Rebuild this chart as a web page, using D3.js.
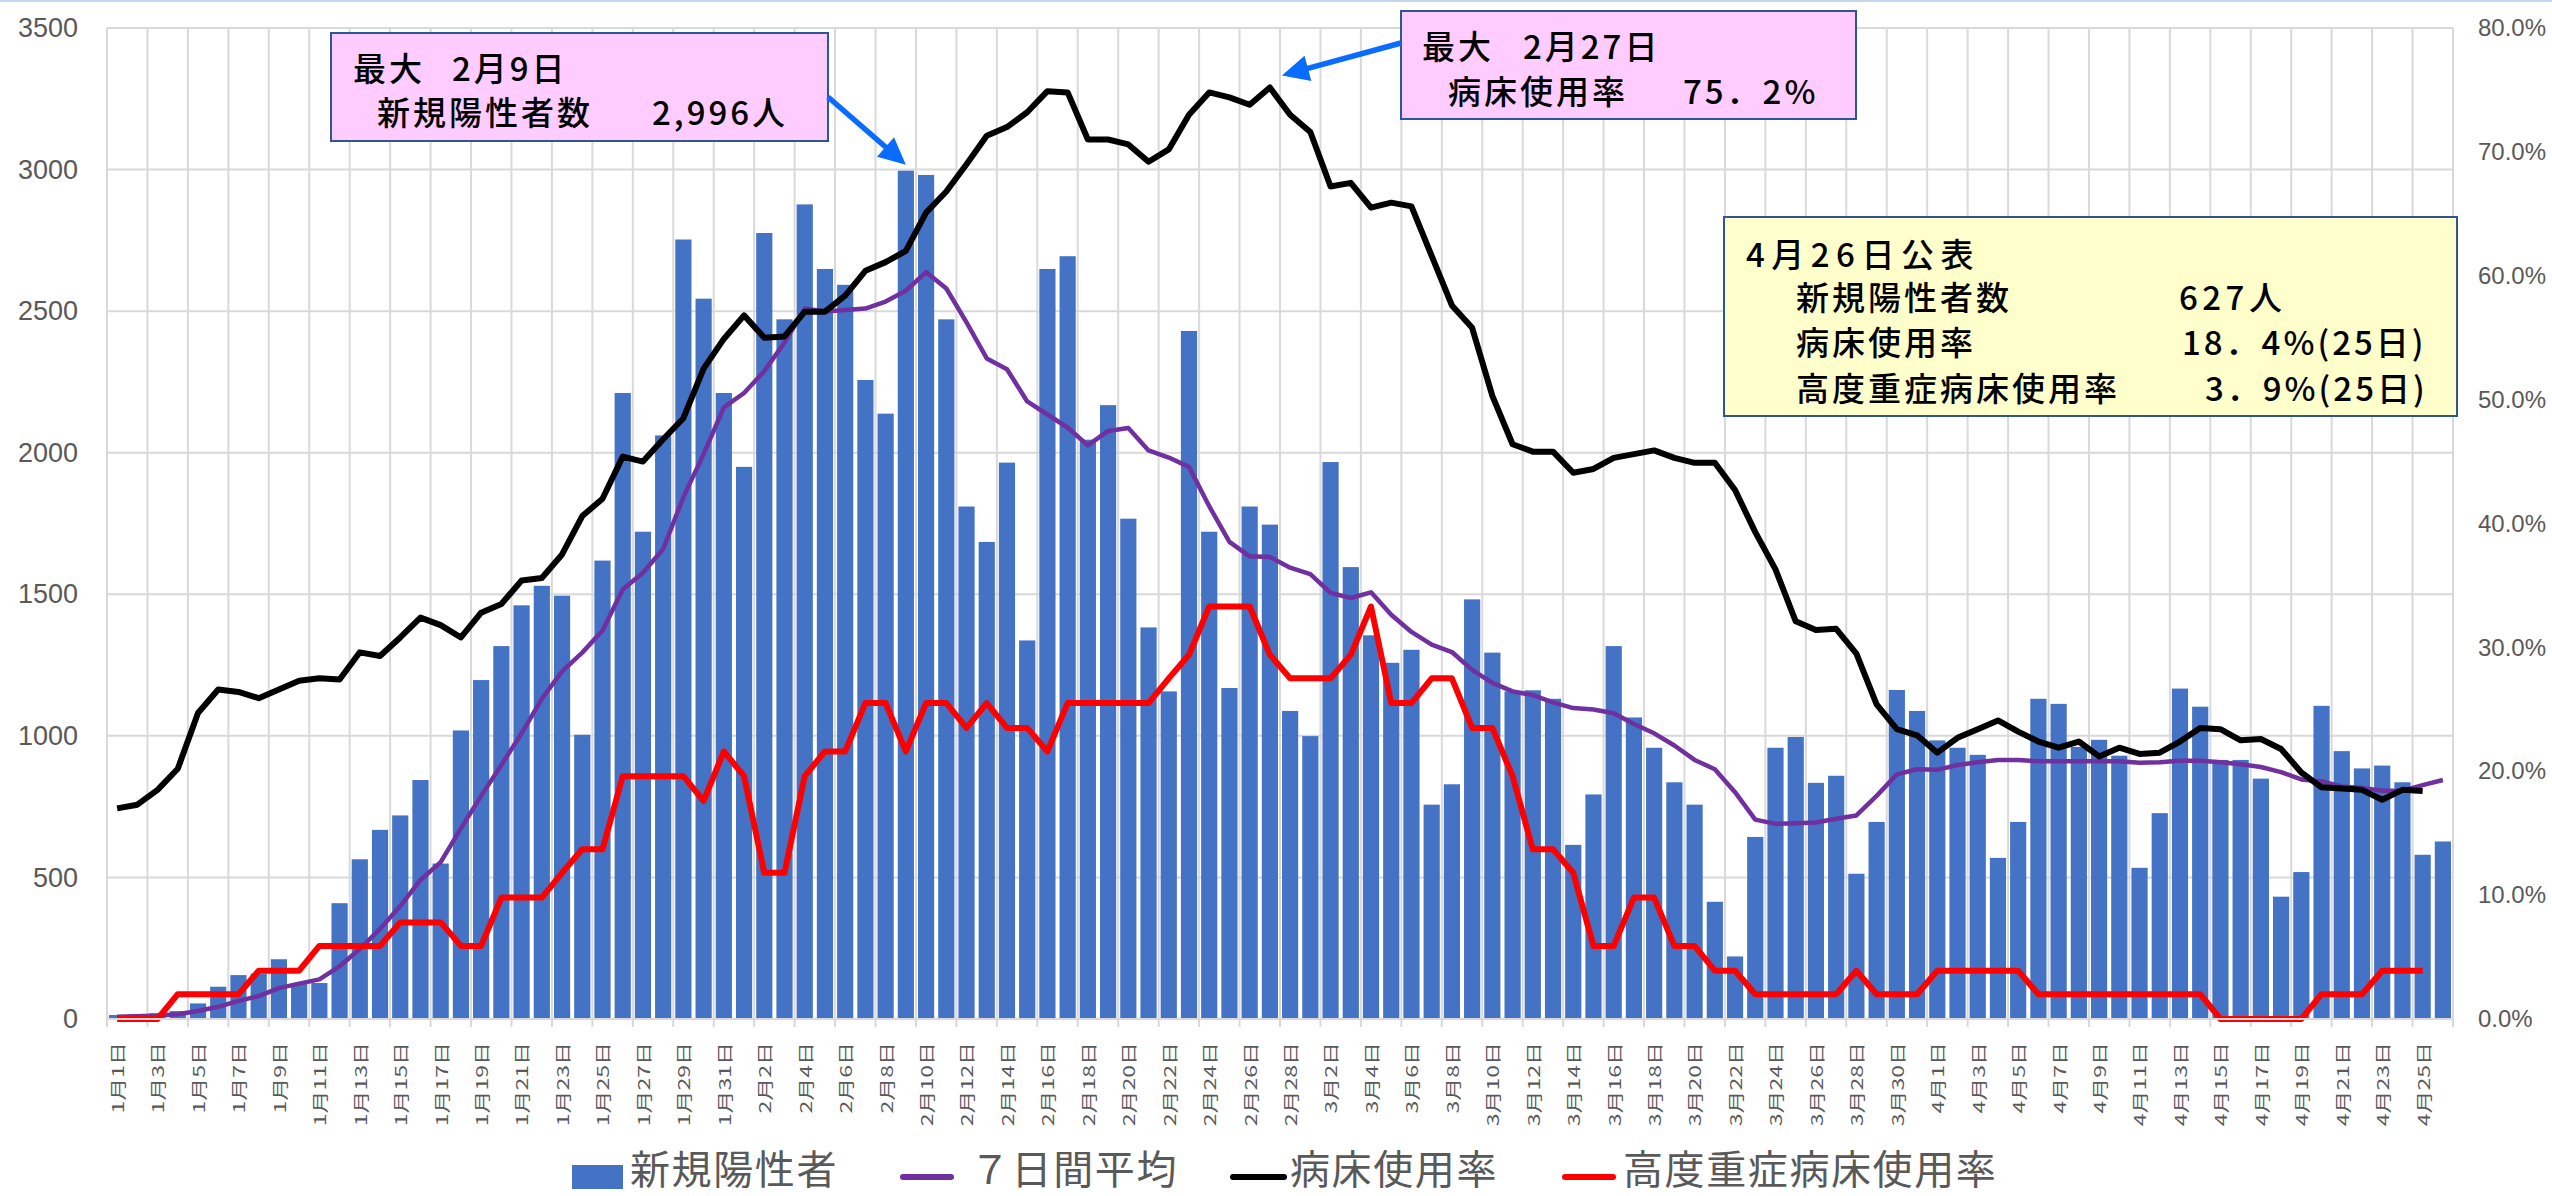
<!DOCTYPE html>
<html><head><meta charset="utf-8">
<script src="https://cdn.jsdelivr.net/npm/d3@7"></script>
<style>body{margin:0;background:#fff}svg{display:block}</style>
</head><body><svg id="c" width="2552" height="1196"></svg>
<script>
const dates = [
"1月1日","1月2日","1月3日","1月4日","1月5日","1月6日","1月7日","1月8日","1月9日","1月10日",
"1月11日","1月12日","1月13日","1月14日","1月15日","1月16日","1月17日","1月18日","1月19日","1月20日",
"1月21日","1月22日","1月23日","1月24日","1月25日","1月26日","1月27日","1月28日","1月29日","1月30日","1月31日",
"2月1日","2月2日","2月3日","2月4日","2月5日","2月6日","2月7日","2月8日","2月9日","2月10日",
"2月11日","2月12日","2月13日","2月14日","2月15日","2月16日","2月17日","2月18日","2月19日","2月20日",
"2月21日","2月22日","2月23日","2月24日","2月25日","2月26日","2月27日","2月28日",
"3月1日","3月2日","3月3日","3月4日","3月5日","3月6日","3月7日","3月8日","3月9日","3月10日",
"3月11日","3月12日","3月13日","3月14日","3月15日","3月16日","3月17日","3月18日","3月19日","3月20日",
"3月21日","3月22日","3月23日","3月24日","3月25日","3月26日","3月27日","3月28日","3月29日","3月30日","3月31日",
"4月1日","4月2日","4月3日","4月4日","4月5日","4月6日","4月7日","4月8日","4月9日","4月10日",
"4月11日","4月12日","4月13日","4月14日","4月15日","4月16日","4月17日","4月18日","4月19日","4月20日",
"4月21日","4月22日","4月23日","4月24日","4月25日","4月26日"];

// 新規陽性者 (bars, left axis)
const newCases = [
14,17,20,28,55,114,155,160,211,127,
127,409,564,668,719,844,549,1019,1197,1317,
1461,1530,1495,1004,1619,2211,1721,2061,2753,2544,2211,
1950,2776,2471,2877,2649,2593,2257,2138,2996,2981,
2471,1810,1685,1965,1337,2649,2694,2046,2168,1767,
1383,1157,2430,1721,1169,1810,1746,1088,
999,1967,1596,1355,1258,1304,757,829,1482,1294,
1157,1161,1131,615,793,1317,1065,958,836,757,
414,221,643,958,996,834,859,513,696,1162,1088,
984,958,933,569,696,1131,1113,961,986,930,
534,727,1167,1103,915,915,849,432,519,1106,
946,885,895,836,580,627];

// 7日間平均 (left axis)
const avg7 = [
8,10,12,17,28,43,64,81,109,125,
140,186,247,318,399,491,554,673,788,897,
1009,1131,1228,1294,1372,1517,1576,1660,1843,1995,2160,
2211,2288,2389,2509,2499,2504,2509,2534,2572,2638,
2580,2460,2333,2295,2181,2135,2089,2026,2077,2087,
2008,1983,1950,1811,1685,1634,1632,1594,
1571,1505,1487,1507,1428,1367,1322,1296,1233,1187,
1157,1144,1118,1098,1093,1080,1042,1009,966,915,
882,801,704,689,691,694,707,719,788,864,882,
880,897,907,915,915,910,910,910,910,910,
905,907,912,912,907,900,890,872,846,839,
821,816,806,806,826,844];

// 病床使用率 (%, right axis)
const bedRate = [
17.0,17.3,18.5,20.2,24.7,26.6,26.4,25.9,26.6,27.3,
27.5,27.4,29.6,29.3,30.8,32.4,31.8,30.8,32.8,33.5,
35.4,35.6,37.5,40.6,42.0,45.4,45.0,46.8,48.5,52.5,54.9,
56.8,55.0,55.1,57.1,57.1,58.4,60.4,61.1,62.0,65.1,
66.8,69.0,71.3,72.0,73.2,74.9,74.8,71.0,71.0,70.6,
69.2,70.2,73.0,74.8,74.4,73.8,75.2,73.0,
71.6,67.2,67.5,65.5,65.9,65.6,61.6,57.6,55.8,50.3,
46.4,45.8,45.8,44.1,44.4,45.3,45.6,45.9,45.3,44.9,
44.9,42.7,39.3,36.3,32.1,31.4,31.5,29.5,25.4,23.4,22.9,
21.5,22.7,23.4,24.1,23.2,22.4,21.9,22.4,21.2,21.9,
21.4,21.5,22.4,23.5,23.4,22.5,22.6,21.8,19.9,18.7,
18.6,18.5,17.7,18.5,18.4,null];

// 高度重症病床使用率 (%, right axis)
const severeRate = [
0,0,0,2.0,2.0,2.0,2.0,3.9,3.9,3.9,
5.9,5.9,5.9,5.9,7.8,7.8,7.8,5.9,5.9,9.8,
9.8,9.8,11.8,13.7,13.7,19.6,19.6,19.6,19.6,17.6,21.6,
19.6,11.8,11.8,19.6,21.6,21.6,25.5,25.5,21.6,25.5,
25.5,23.5,25.5,23.5,23.5,21.6,25.5,25.5,25.5,25.5,
25.5,27.5,29.4,33.3,33.3,33.3,29.4,27.5,
27.5,27.5,29.4,33.3,25.5,25.5,27.5,27.5,23.5,23.5,
19.6,13.7,13.7,11.8,5.9,5.9,9.8,9.8,5.9,5.9,
3.9,3.9,2.0,2.0,2.0,2.0,2.0,3.9,2.0,2.0,2.0,
3.9,3.9,3.9,3.9,3.9,2.0,2.0,2.0,2.0,2.0,
2.0,2.0,2.0,2.0,0,0,0,0,0,2.0,
2.0,2.0,3.9,3.9,3.9,null];

const leftTicks = [0,500,1000,1500,2000,2500,3000,3500];
const rightTicks = [0,10,20,30,40,50,60,70,80];
const seriesNames = ["新規陽性者","７日間平均","病床使用率","高度重症病床使用率"];
const colors = {bar:"#4472C4", avg:"#7030A0", bed:"#000000", severe:"#FF0000"};

const svg = d3.select("#c");
const L=107, R=2453, T=28, B=1019;
const x = d3.scaleBand().domain(dates).range([L,R]).paddingInner(0.2).paddingOuter(0.1);
const yL = d3.scaleLinear().domain([0,3500]).range([B,T]);
const yR = d3.scaleLinear().domain([0,80]).range([B,T]);
const step = x.step();
const cx = d => x(d) + x.bandwidth()/2;
const bound = i => i < dates.length ? x(dates[i]) - step*0.1 : R;
const grey = "#595959", gridC = "#D9D9D9";
const cjk = "'Noto Sans CJK JP','Noto Sans',sans-serif";

// top border
svg.append("rect").attr("x",0).attr("y",0).attr("width",2552).attr("height",2).attr("fill","#C5D5EE");

// gridlines
const grid = svg.append("g");
leftTicks.forEach(t => grid.append("line").attr("x1",L).attr("x2",R).attr("y1",yL(t)).attr("y2",yL(t))
  .attr("stroke",gridC).attr("stroke-width",2));
for (let i=0;i<=dates.length;i+=2){
  grid.append("line").attr("x1",bound(i)).attr("x2",bound(i)).attr("y1",T).attr("y2",B+8)
    .attr("stroke",gridC).attr("stroke-width",2);
}
grid.append("line").attr("x1",R).attr("x2",R).attr("y1",T).attr("y2",B+8).attr("stroke",gridC).attr("stroke-width",2);

// bars
svg.append("g").selectAll("rect").data(newCases).join("rect")
  .attr("x",(v,i)=>x(dates[i])).attr("width",x.bandwidth())
  .attr("y",v=>yL(v)).attr("height",v=>B-yL(v)).attr("fill",colors.bar);

// lines
const lineL = d3.line().defined(v=>v!=null).x((v,i)=>cx(dates[i])).y(v=>yL(v));
const lineR = d3.line().defined(v=>v!=null).x((v,i)=>cx(dates[i])).y(v=>yR(v));
svg.append("path").datum(avg7).attr("d",lineL).attr("fill","none").attr("stroke",colors.avg)
  .attr("stroke-width",4.5).attr("stroke-linejoin","round");
svg.append("path").datum(bedRate).attr("d",lineR).attr("fill","none").attr("stroke",colors.bed)
  .attr("stroke-width",6).attr("stroke-linejoin","round");
svg.append("path").datum(severeRate).attr("d",lineR).attr("fill","none").attr("stroke",colors.severe)
  .attr("stroke-width",6).attr("stroke-linejoin","round");

// x axis
svg.append("line").attr("x1",L).attr("x2",R).attr("y1",B).attr("y2",B).attr("stroke",gridC).attr("stroke-width",2);
const xa = svg.append("g").attr("transform",`translate(0,${B})`)
  .call(d3.axisBottom(x).tickValues(dates.filter((d,i)=>i%2===0)).tickSize(0));
xa.select(".domain").remove();
xa.selectAll("text").attr("x",0).attr("y",0).attr("dy",null)
  .attr("transform","translate(0,23) rotate(-90) scale(1,0.7)")
  .attr("text-anchor","end").attr("dominant-baseline","central")
  .attr("fill",grey).style("font-family",cjk).style("font-size","23px");

// left axis
const la = svg.append("g").attr("transform",`translate(${L},0)`)
  .call(d3.axisLeft(yL).tickValues(leftTicks).tickFormat(d3.format("d")).tickSize(0).tickPadding(29));
la.select(".domain").remove();
la.selectAll("text").attr("fill",grey).style("font-family","'Liberation Sans',sans-serif").style("font-size","27px");

// right axis
const ra = svg.append("g").attr("transform",`translate(${R},0)`)
  .call(d3.axisRight(yR).tickValues(rightTicks).tickFormat(d=>d.toFixed(1)+"%").tickSize(0).tickPadding(25));
ra.select(".domain").remove();
ra.selectAll("text").attr("fill",grey).style("font-family","'Liberation Sans',sans-serif").style("font-size","24px");

// annotation helpers
function box(x0,y0,x1,y1,fill){
  svg.append("rect").attr("x",x0).attr("y",y0).attr("width",x1-x0).attr("height",y1-y0)
    .attr("fill",fill).attr("stroke","#2F5597").attr("stroke-width",2);
}
function txt(xp,yp,s,size,ls,col,weight,base){
  svg.append("text").attr("x",xp).attr("y",yp).text(s)
    .attr("dominant-baseline",base||"central").attr("fill",col||"#000")
    .style("font-family",cjk).style("font-size",(size||33)+"px")
    .style("letter-spacing",(ls==null?3:ls)+"px").style("font-weight",weight||500);
}
function arrow(x1,y1,x2,y2){
  const dx=x2-x1, dy=y2-y1, len=Math.hypot(dx,dy), ux=dx/len, uy=dy/len;
  const hl=27, hw=13, bx=x2-ux*hl, by=y2-uy*hl;
  const col="#0A6CFF";
  svg.append("line").attr("x1",x1).attr("y1",y1).attr("x2",bx+ux*2).attr("y2",by+uy*2)
    .attr("stroke",col).attr("stroke-width",5.5);
  svg.append("polygon").attr("points",[[x2,y2],[bx-uy*hw,by+ux*hw],[bx+uy*hw,by-ux*hw]].map(p=>p.join(",")).join(" "))
    .attr("fill",col);
}

// box 1
box(331,33,828,141,"#FFCCFF");
txt(353,67,"最大");
txt(452,67,"2月9日");
txt(377,111,"新規陽性者数");
txt(652,111,"2,996人");
const iMax1 = newCases.indexOf(d3.max(newCases));
arrow(828,97,cx(dates[iMax1]),yL(newCases[iMax1])-6);

// box 2
box(1401,11,1856,119,"#FFCCFF");
txt(1422,45,"最大");
txt(1523,45,"2月27日");
txt(1448,90,"病床使用率");
txt(1683,90,"75．2%");
const bedMax = d3.max(bedRate), iMax2 = bedRate.indexOf(bedMax);
arrow(1401,43,cx(dates[iMax2])+12,yR(bedMax)-12);

// box 3
box(1724,217,2457,416,"#FFFFCC");
txt(1746,253,"4月26日公表",33,6.5);
txt(1796,296,"新規陽性者数");
txt(1796,341,"病床使用率");
txt(1796,387,"高度重症病床使用率");
txt(2179,296,"627人",33,4.5);
txt(2182,341,"18．4%(25日)");
txt(2205,387,"3．9%(25日)");

// legend
const ly = 1177, lty = 1184;
svg.append("rect").attr("x",572).attr("y",ly-12).attr("width",51).attr("height",24).attr("fill",colors.bar);
txt(630,lty,seriesNames[0],40,1.6,grey,400,"alphabetic");
[[900,954,colors.avg,970,seriesNames[1]],[1230,1287,colors.bed,1290,seriesNames[2]],[1562,1616,colors.severe,1623,seriesNames[3]]]
.forEach(([a,b,c,tx,s])=>{
  svg.append("line").attr("x1",a+3).attr("x2",b-3).attr("y1",ly).attr("y2",ly).attr("stroke",c)
    .attr("stroke-width",6).attr("stroke-linecap","round");
  txt(tx,lty,s,40,1.6,grey,400,"alphabetic");
});
</script></body></html>
